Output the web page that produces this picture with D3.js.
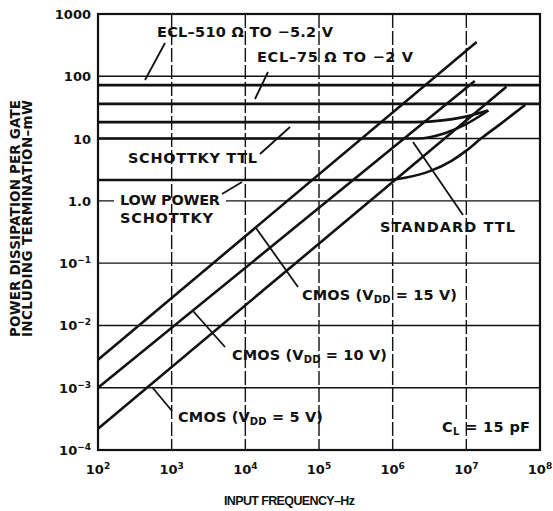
<!DOCTYPE html>
<html>
<head>
<meta charset="utf-8">
<script src="https://cdn.jsdelivr.net/npm/d3@7/dist/d3.min.js"></script>
<style>
    body { margin: 0; background: #fff; }
    text { font-family: "DejaVu Sans", sans-serif; font-weight: bold; fill: #111; }
</style>
</head>
<body>
<svg id="chart" width="553" height="511"></svg>
<script>
// axis ticks
const xTicks = [1e2, 1e3, 1e4, 1e5, 1e6, 1e7, 1e8];
const xTickExp = ['2', '3', '4', '5', '6', '7', '8'];
const yTicks = [1e-4, 1e-3, 1e-2, 1e-1, 1, 10, 100, 1000];
const yTickBase = ['10', '10', '10', '10', '1.0', '10', '100', '1000'];
const yTickExp = ['\u22124', '\u22123', '\u22122', '\u22121', '', '', '', ''];

// ECL: flat lines (mW)
const ecl510Freq = [1e2, 1e8];
const ecl510Power = [72, 72];
const ecl75Freq = [1e2, 1e8];
const ecl75Power = [36, 36];

// TTL families (Hz, mW)
const schottkyFreq = [1e2, 2.0e6, 5.1e6, 1.2e7, 1.95e7];
const schottkyPower = [18.4, 18.4, 19.8, 23.8, 28.2];
const stdTtlFreq = [1e2, 2.2e6, 5.1e6, 9.5e6, 2.0e7];
const stdTtlPower = [10, 10, 12.2, 16.6, 28.2];
const lpsFreq = [1e2, 7.9e5, 1.6e6, 3.2e6, 6.3e6, 1.0e7, 1.58e7, 2.8e7, 4.2e7, 6.3e7];
const lpsPower = [2.16, 2.16, 2.4, 3.0, 4.4, 6.4, 10, 16.6, 24, 34.7];

// CMOS straight lines (Hz, mW)
const cmos15Freq = [1e2, 1.38e7];
const cmos15Power = [2.8e-3, 355];
const cmos10Freq = [1e2, 1.3e7];
const cmos10Power = [1.0e-3, 84];
const cmos5Freq = [1e2, 3.5e7];
const cmos5Power = [2.2e-4, 68];

const svg = d3.select('#chart');
const plotLeft = 98;
const plotRight = 540;
const plotTop = 14;
const plotBottom = 450;

const x = d3.scaleLog().domain([1e2, 1e8]).range([plotLeft, plotRight]);
const y = d3.scaleLog().domain([1e-4, 1e3]).range([plotBottom, plotTop]);

// grid
svg.append('g')
    .selectAll('line')
    .data(xTicks.slice(1, -1))
    .join('line')
    .attr('x1', (d) => x(d))
    .attr('x2', (d) => x(d))
    .attr('y1', plotTop)
    .attr('y2', plotBottom)
    .attr('stroke', '#111')
    .attr('stroke-width', 1.4)
    .attr('stroke-dasharray', '14,3');

svg.append('g')
    .selectAll('line')
    .data(yTicks.slice(1, -1))
    .join('line')
    .attr('x1', plotLeft)
    .attr('x2', plotRight)
    .attr('y1', (d) => y(d))
    .attr('y2', (d) => y(d))
    .attr('stroke', '#111')
    .attr('stroke-width', 1.4);

// data curves
const line = d3.line()
    .x((d) => x(d[0]))
    .y((d) => y(d[1]))
    .curve(d3.curveMonotoneX);

const series = [
    [ecl510Freq, ecl510Power],
    [ecl75Freq, ecl75Power],
    [schottkyFreq, schottkyPower],
    [stdTtlFreq, stdTtlPower],
    [lpsFreq, lpsPower],
    [cmos15Freq, cmos15Power],
    [cmos10Freq, cmos10Power],
    [cmos5Freq, cmos5Power],
];

series.forEach(([f, p]) => {
    svg.append('path')
        .datum(f.map((v, i) => [v, p[i]]))
        .attr('d', line)
        .attr('fill', 'none')
        .attr('stroke', '#111')
        .attr('stroke-width', 2.6);
});

// frame
svg.append('rect')
    .attr('x', plotLeft)
    .attr('y', plotTop)
    .attr('width', plotRight - plotLeft)
    .attr('height', plotBottom - plotTop)
    .attr('fill', 'none')
    .attr('stroke', '#111')
    .attr('stroke-width', 2.2);

// tick labels
const xLab = svg.append('g')
    .selectAll('text')
    .data(xTicks)
    .join('text')
    .attr('x', (d) => x(d))
    .attr('y', 474)
    .attr('text-anchor', 'middle')
    .style('font-size', '13px');
xLab.append('tspan').text('10');
xLab.append('tspan')
    .attr('dy', -5)
    .style('font-size', '9px')
    .text((d, i) => xTickExp[i]);

const yLab = svg.append('g')
    .selectAll('text')
    .data(yTicks)
    .join('text')
    .attr('x', 91)
    .attr('y', (d) => y(d) + 5)
    .attr('text-anchor', 'end')
    .style('font-size', '13px');
yLab.append('tspan').text((d, i) => yTickBase[i]);
yLab.append('tspan')
    .attr('dy', -5)
    .style('font-size', '9px')
    .text((d, i) => yTickExp[i]);

// stretch a text to the width it has in the scan
function fitWidth(sel, w) {
    const node = sel.node();
    const n = node.textContent.length;
    const len = node.getComputedTextLength();
    sel.attr('letter-spacing', ((w - len) / (n - 1)).toFixed(2));
}

// annotations
const notes = [
    { t: 'ECL\u2013510 \u03a9 TO \u22125.2 V', x: 157, y: 37, w: 176 },
    { t: 'ECL\u201375 \u03a9 TO \u22122 V', x: 257, y: 62, w: 156 },
    { t: 'SCHOTTKY TTL', x: 128, y: 163, w: 129 },
    { t: 'LOW POWER', x: 120, y: 205, w: 100, bg: true },
    { t: 'SCHOTTKY', x: 120, y: 223, w: 93 },
    { t: 'STANDARD TTL', x: 380, y: 232, w: 135 },
];

notes.forEach((n) => {
    if (n.bg) {
        svg.append('rect')
            .attr('x', n.x - 6)
            .attr('y', y(1) - 3)
            .attr('width', n.w + 12)
            .attr('height', 6)
            .attr('fill', '#fff');
    }
    const t = svg.append('text')
        .attr('x', n.x)
        .attr('y', n.y)
        .style('font-size', '14.5px')
        .text(n.t);
    fitWidth(t, n.w);
});

const cmosNotes = [
    { v: '15', x: 302, y: 300, w: 155 },
    { v: '10', x: 232, y: 360, w: 155 },
    { v: '5', x: 178, y: 422, w: 145 },
];

cmosNotes.forEach((n) => {
    const t = svg.append('text')
        .attr('x', n.x)
        .attr('y', n.y)
        .style('font-size', '14.5px');
    t.append('tspan').text('CMOS (V');
    t.append('tspan').attr('dy', 3).style('font-size', '10px').text('DD');
    t.append('tspan').attr('dy', -3).text(` = ${n.v} V)`);
    fitWidth(t, n.w);
});

const cl = svg.append('text')
    .attr('x', 442)
    .attr('y', 432)
    .style('font-size', '14.5px');
cl.append('tspan').text('C');
cl.append('tspan').attr('dy', 3).style('font-size', '10px').text('L');
cl.append('tspan').attr('dy', -3).text(' = 15 pF');
fitWidth(cl, 88);

// leaders
const leaders = [
    [165, 43, 145, 80],
    [268, 72, 255, 99],
    [260, 154, 290, 127],
    [222, 194, 242, 182],
    [463, 215, 413, 142],
    [298, 287, 256, 228],
    [225, 347, 193, 311],
    [172, 411, 152, 387],
];

svg.append('g')
    .selectAll('line')
    .data(leaders)
    .join('line')
    .attr('x1', (d) => d[0])
    .attr('y1', (d) => d[1])
    .attr('x2', (d) => d[2])
    .attr('y2', (d) => d[3])
    .attr('stroke', '#111')
    .attr('stroke-width', 1.8);

// axis titles
const xt = svg.append('text')
    .attr('x', 224)
    .attr('y', 505)
    .style('font-family', '"Liberation Sans", sans-serif')
    .style('font-size', '12.5px')
    .text('INPUT FREQUENCY\u2013Hz');
fitWidth(xt, 131);

const yt1 = svg.append('text')
    .attr('transform', 'translate(20,337) rotate(-90)')
    .style('font-size', '13.5px')
    .text('POWER DISSIPATION PER GATE');
fitWidth(yt1, 237);

const yt2 = svg.append('text')
    .attr('transform', 'translate(32,337) rotate(-90)')
    .style('font-size', '13.5px')
    .text('INCLUDING TERMINATION\u2013mW');
fitWidth(yt2, 237);
</script>
</body>
</html>
